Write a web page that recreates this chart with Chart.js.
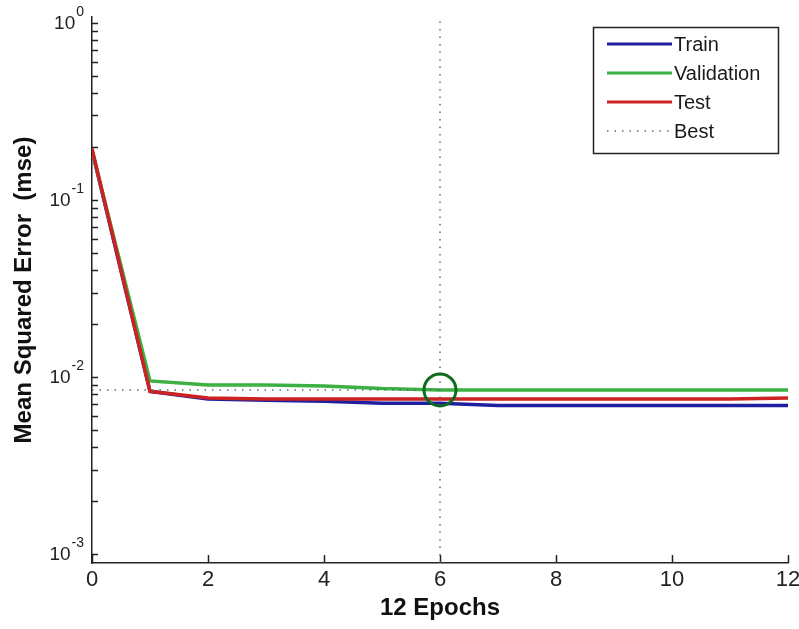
<!DOCTYPE html>
<html>
<head>
<meta charset="utf-8">
<script src="https://cdn.jsdelivr.net/npm/chart.js@4.4.1/dist/chart.umd.min.js"></script>
<style>
  html, body { margin: 0; padding: 0; background: #fff; overflow: hidden; }
  canvas { display: block; }
</style>
</head>
<body>
<canvas id="perfChart" width="799" height="629"></canvas>
<script>
// 학습 성능(MSE) - 그림에서 읽은 값
const epochs = [0, 1, 2, 3, 4, 5, 6, 7, 8, 9, 10, 11, 12];
const trainMse = [0.19, 0.0083, 0.0075, 0.0074, 0.0073, 0.0071, 0.0071, 0.0069, 0.0069, 0.0069, 0.0069, 0.0069, 0.0069];
const validationMse = [0.19, 0.0095, 0.009, 0.009, 0.0089, 0.0086, 0.00845, 0.00845, 0.00845, 0.00845, 0.00845, 0.00845, 0.00845];
const testMse = [0.195, 0.0083, 0.0076, 0.0075, 0.0075, 0.0075, 0.0075, 0.0075, 0.0075, 0.0075, 0.0075, 0.0075, 0.0076];
const bestEpoch = 6;
const bestMse = 0.00845;
const yMin = 0.00089;
const yMax = 1.08;
const xMax = 12;

const colors = {
  train: '#1f1fa0',
  validation: '#3cb043',
  test: '#cc2222',
  best: '#4f7373',
  circle: '#0c6e1c',
  axis: '#222',
};

function isLogStep(v) {
  const e = Math.floor(Math.log10(v) + 1e-9);
  const m = v / Math.pow(10, e);
  return Math.abs(m - Math.round(m)) < 1e-6;
}

function decade(v) {
  const p = Math.log10(v);
  return Math.abs(p - Math.round(p)) < 1e-6 ? Math.round(p) : null;
}

const toPoints = (ys) => epochs.map((e, i) => ({ x: e, y: ys[i] }));

// 축 안쪽 눈금 + 눈금 라벨 (MATLAB 스타일)
const innerTicks = {
  id: 'innerTicks',
  beforeDatasetsDraw(chart) {
    const { ctx, chartArea, scales } = chart;
    ctx.save();
    ctx.strokeStyle = colors.axis;
    ctx.lineWidth = 1.5;
    ctx.beginPath();
    scales.x.ticks.forEach((t) => {
      const px = Math.round(scales.x.getPixelForValue(t.value)) + 0.5;
      ctx.moveTo(px, chartArea.bottom);
      ctx.lineTo(px, chartArea.bottom - 8);
    });
    scales.y.ticks.forEach((t) => {
      if (!isLogStep(t.value)) return;
      const py = Math.round(scales.y.getPixelForValue(t.value)) + 0.5;
      ctx.moveTo(chartArea.left, py);
      ctx.lineTo(chartArea.left + 6, py);
    });
    ctx.stroke();

    ctx.fillStyle = '#222';

    // x 라벨
    ctx.font = '22px "Liberation Sans", Arial, sans-serif';
    ctx.textAlign = 'center';
    ctx.textBaseline = 'top';
    scales.x.ticks.forEach((t) => {
      ctx.fillText(String(t.value), scales.x.getPixelForValue(t.value), chartArea.bottom + 6);
    });

    // y 라벨: 10 + 위첨자 지수
    ctx.textBaseline = 'middle';
    ctx.textAlign = 'right';
    scales.y.ticks.forEach((t) => {
      const p = decade(t.value);
      if (p === null) return;
      const py = scales.y.getPixelForValue(t.value);
      const expRight = chartArea.left - 8;
      ctx.font = '14px "Liberation Sans", Arial, sans-serif';
      const expText = String(p);
      const expW = ctx.measureText(expText).width;
      ctx.fillText(expText, expRight, py - 11);
      ctx.font = '19px "Liberation Sans", Arial, sans-serif';
      ctx.fillText('10', expRight - expW - 1, py + 1);
    });
    ctx.restore();
  },
};

// 테두리 있는 범례 (오른쪽 위)
const boxLegend = {
  id: 'boxLegend',
  afterDraw(chart) {
    const { ctx, chartArea } = chart;
    const items = chart.data.datasets.filter((d) => d.inLegend);
    const w = 185;
    const h = 126;
    const left = chartArea.right - 10 - w;
    const top = chartArea.top + 10;
    ctx.save();
    ctx.fillStyle = '#fff';
    ctx.fillRect(left, top, w, h);
    ctx.strokeStyle = colors.axis;
    ctx.lineWidth = 1.5;
    ctx.strokeRect(left + 0.5, top + 0.5, w, h);
    ctx.font = '20px "Liberation Sans", Arial, sans-serif';
    ctx.textBaseline = 'middle';
    items.forEach((d, i) => {
      const y = top + 17 + i * 29;
      ctx.beginPath();
      ctx.strokeStyle = d.borderColor;
      ctx.lineWidth = d.borderDash ? 1.5 : 3;
      ctx.setLineDash(d.borderDash || []);
      ctx.moveTo(left + 14, y);
      ctx.lineTo(left + 79, y);
      ctx.stroke();
      ctx.setLineDash([]);
      ctx.fillStyle = '#1a1a1a';
      ctx.fillText(d.label, left + 81, y + 1);
    });
    ctx.restore();
  },
};

Chart.defaults.font.family = '"Liberation Sans", Arial, sans-serif';
Chart.defaults.color = '#1a1a1a';

const datasets = [
  { label: 'Train', data: toPoints(trainMse), borderColor: colors.train, borderWidth: 3.5, order: 4, inLegend: true },
  { label: 'Validation', data: toPoints(validationMse), borderColor: colors.validation, borderWidth: 3.5, order: 3, inLegend: true },
  { label: 'Test', data: toPoints(testMse), borderColor: colors.test, borderWidth: 3.5, order: 2, inLegend: true },
  {
    label: 'Best',
    data: [{ x: 0, y: bestMse }, { x: bestEpoch, y: bestMse }],
    borderColor: colors.best,
    borderWidth: 1.5,
    borderDash: [1.5, 6],
    order: 1,
    inLegend: true,
  },
  {
    label: 'Best epoch',
    data: [{ x: bestEpoch, y: yMin }, { x: bestEpoch, y: yMax }],
    borderColor: colors.best,
    borderWidth: 1.5,
    borderDash: [1.5, 6],
    order: 1,
  },
  {
    label: 'Best point',
    data: [{ x: bestEpoch, y: bestMse }],
    showLine: false,
    pointRadius: 16,
    pointBorderWidth: 3,
    pointBorderColor: colors.circle,
    pointBackgroundColor: 'rgba(0,0,0,0)',
    order: 0,
  },
];

datasets.forEach((d) => {
  d.fill = false;
  d.tension = 0;
  if (d.pointRadius === undefined) d.pointRadius = 0;
});

new Chart(document.getElementById('perfChart').getContext('2d'), {
  type: 'line',
  data: { datasets },
  plugins: [innerTicks, boxLegend],
  options: {
    responsive: false,
    animation: false,
    layout: { autoPadding: false, padding: { left: 0, top: 17, right: 11, bottom: 0 } },
    plugins: {
      legend: { display: false },
      tooltip: { enabled: false },
    },
    scales: {
      x: {
        type: 'linear',
        min: 0,
        max: xMax,
        grid: { display: true, drawOnChartArea: false, drawTicks: false },
        border: { display: true, color: colors.axis, width: 1.5 },
        ticks: { stepSize: 2, callback: () => '' },
        title: {
          display: true,
          text: '12 Epochs',
          color: '#111',
          font: { size: 24, weight: 'bold' },
          padding: { top: 0, bottom: 6 },
        },
        afterFit: (scale) => { scale.height = 66; },
      },
      y: {
        type: 'logarithmic',
        min: yMin,
        max: yMax,
        grid: { display: true, drawOnChartArea: false, drawTicks: false },
        border: { display: true, color: colors.axis, width: 1.5 },
        ticks: { autoSkip: false, callback: () => '' },
        title: {
          display: true,
          text: 'Mean Squared Error  (mse)',
          color: '#111',
          font: { size: 24, weight: 'bold' },
          padding: { top: 10, bottom: 0 },
        },
        afterFit: (scale) => { scale.width = 92; },
      },
    },
  },
});
</script>
</body>
</html>
